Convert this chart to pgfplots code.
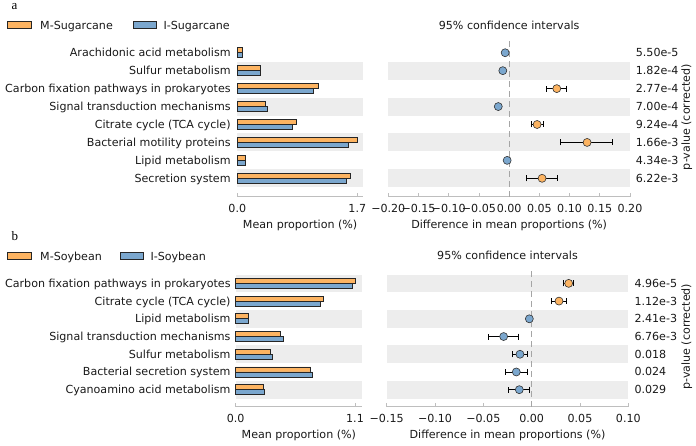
\documentclass[border=0pt]{standalone}
\usepackage{pgfplots}
\pgfplotsset{compat=1.18}
\usepackage{fontspec}
\setmainfont{DejaVu Sans}
\newfontfamily\seriffont{Liberation Serif}
\definecolor{orangeC}{RGB}{253,180,98}
\definecolor{blueC}{RGB}{123,167,206}
\definecolor{bandC}{RGB}{237,237,237}
\definecolor{spineC}{RGB}{190,190,190}
\definecolor{dashC}{RGB}{165,165,165}
\definecolor{textC}{RGB}{25,25,25}
\pgfplotsset{
  leftpanel/.style={
    scale only axis, clip=false,
    axis x line*=bottom, axis y line*=left,
    x axis line style={spineC, line width=0.8pt, -},
    y axis line style={draw=none},
    tick align=inside, major tick length=4pt,
    xtick style={spineC, line width=0.8pt},
    ytick style={draw=none},
    xticklabel style={anchor=base, inner sep=0pt, yshift=-15.5pt, text=textC},
    xlabel={Mean proportion (\%)},
    every axis x label/.style={at={(axis description cs:0.5,0)}, anchor=base, inner sep=0pt, yshift=-31.5pt, text=textC},
  },
  rightpanel/.style={
    scale only axis, clip=false,
    axis x line*=bottom, axis y line*=right,
    x axis line style={spineC, line width=0.8pt, -},
    y axis line style={draw=none},
    tick align=inside, major tick length=4pt,
    xtick style={spineC, line width=0.8pt},
    ytick style={draw=none},
    yticklabel style={anchor=base west, inner sep=0pt, yshift=-4pt, text=textC},
    xticklabel style={anchor=base, inner sep=0pt, yshift=-15.5pt, text=textC},
    xlabel={Difference in mean proportions (\%)},
    every axis x label/.style={at={(axis description cs:0.5,0)}, anchor=base, inner sep=0pt, yshift=-31.5pt, text=textC},
    title={95\% confidence intervals},
    every axis title/.style={at={(axis description cs:0.5,1)}, anchor=base, inner sep=0pt, yshift=7.7pt, text=textC},
    ylabel={p-value (corrected)},
  },
  mbar/.style={xbar, bar width=5pt, bar shift=2.5pt, fill=orangeC, draw=black!85, line width=0.7pt},
  ibar/.style={xbar, bar width=5pt, bar shift=-2.5pt, fill=blueC, draw=black!85, line width=0.7pt},
  ptO/.style={only marks, mark=*, mark size=4pt, mark options={fill=orangeC, draw=black!80, line width=0.6pt, solid},
    error bars/.cd, x dir=both, x explicit, error bar style={black, line width=0.9pt},
    error mark=-, error mark options={black, line width=0.9pt, mark size=3pt, rotate=90}},
  ptB/.style={only marks, mark=*, mark size=4pt, mark options={fill=blueC, draw=black!80, line width=0.6pt, solid},
    error bars/.cd, x dir=both, x explicit, error bar style={black, line width=0.9pt},
    error mark=-, error mark options={black, line width=0.9pt, mark size=3pt, rotate=90}},
  zline/.style={dashC, line width=1pt, dash pattern=on 6pt off 4pt, mark=none},
}
\begin{document}
\fontsize{11.1pt}{13.3pt}\selectfont
\begin{tikzpicture}
\useasboundingbox (0pt,0pt) rectangle (696pt,445pt);
%================ Panel a : mean proportions ================
\begin{axis}[leftpanel,
  at={(237.3pt,248.3pt)}, anchor=south west, width=125.7pt, height=159.4pt,
  xmin=0, xmax=1.781, ymin=-1.025, ymax=7.86,
  xtick={0,1.7}, xticklabels={0.0,1.7},
  ytick={0,1,2,3,4,5,6,7},
  yticklabels={Secretion system, Lipid metabolism, Bacterial motility proteins, Citrate cycle (TCA cycle), Signal transduction mechanisms, Carbon fixation pathways in prokaryotes, Sulfur metabolism, Arachidonic acid metabolism},
  yticklabel style={anchor=base east, inner sep=0pt, xshift=-6.5pt, yshift=-4pt, text=textC},
]
\fill[bandC] (axis cs:0,-0.5) rectangle (axis cs:1.781,0.5);
\fill[bandC] (axis cs:0,1.5) rectangle (axis cs:1.781,2.5);
\fill[bandC] (axis cs:0,3.5) rectangle (axis cs:1.781,4.5);
\fill[bandC] (axis cs:0,5.5) rectangle (axis cs:1.781,6.5);
\addplot[mbar] coordinates {(1.60,0) (0.114,1) (1.705,2) (0.83,3) (0.40,4) (1.155,5) (0.32,6) (0.071,7)};
\addplot[ibar] coordinates {(1.54,0) (0.114,1) (1.577,2) (0.786,3) (0.426,4) (1.08,5) (0.33,6) (0.076,7)};
\end{axis}
%================ Panel a : differences ================
\begin{axis}[rightpanel,
  at={(388.3pt,248.3pt)}, anchor=south west, width=241.7pt, height=159.4pt,
  xmin=-0.2, xmax=0.2, ymin=-1.025, ymax=7.86,
  xtick={-0.2,-0.15,-0.1,-0.05,0,0.05,0.1,0.15,0.2},
  xticklabels={−0.20,−0.15,−0.10,−0.05,0.00,0.05,0.10,0.15,0.20},
  ytick={0,1,2,3,4,5,6,7},
  yticklabels={6.22e-3,4.34e-3,1.66e-3,9.24e-4,7.00e-4,2.77e-4,1.82e-4,5.50e-5},
  yticklabel style={xshift=5.7pt},
  every axis y label/.style={at={(axis description cs:1,0.5)}, xshift=56.7pt, rotate=90, anchor=center, inner sep=0pt, text=textC},
]
\fill[bandC] (axis cs:-0.2,-0.5) rectangle (axis cs:0.2,0.5);
\fill[bandC] (axis cs:-0.2,1.5) rectangle (axis cs:0.2,2.5);
\fill[bandC] (axis cs:-0.2,3.5) rectangle (axis cs:0.2,4.5);
\fill[bandC] (axis cs:-0.2,5.5) rectangle (axis cs:0.2,6.5);
\addplot[zline] coordinates {(0,-1.025) (0,7.86)};
\addplot[ptB] coordinates {
 (-0.0066,7) +- (0.002,0)
 (-0.0105,6) +- (0.002,0)
 (-0.0180,4) +- (0.002,0)
 (-0.0033,1) +- (0.002,0)
};
\addplot[ptO] coordinates {
 (0.0788,5) += (0.0160,0) -= (0.0165,0)
 (0.0463,3) += (0.0099,0) -= (0.0099,0)
 (0.1290,2) += (0.0420,0) -= (0.0436,0)
 (0.0545,0) += (0.0255,0) -= (0.0253,0)
};
\end{axis}
%================ Panel b : mean proportions ================
\begin{axis}[leftpanel,
  at={(235.7pt,38.3pt)}, anchor=south west, width=126.3pt, height=140pt,
  xmin=0, xmax=1.1645, ymin=-0.96, ymax=6.94,
  xtick={0,1.1}, xticklabels={0.0,1.1},
  ytick={0,1,2,3,4,5,6},
  yticklabels={Cyanoamino acid metabolism, Bacterial secretion system, Sulfur metabolism, Signal transduction mechanisms, Lipid metabolism, Citrate cycle (TCA cycle), Carbon fixation pathways in prokaryotes},
  yticklabel style={anchor=base east, inner sep=0pt, xshift=-5pt, yshift=-4pt, text=textC},
]
\fill[bandC] (axis cs:0,-0.5) rectangle (axis cs:1.1645,0.5);
\fill[bandC] (axis cs:0,1.5) rectangle (axis cs:1.1645,2.5);
\fill[bandC] (axis cs:0,3.5) rectangle (axis cs:1.1645,4.5);
\fill[bandC] (axis cs:0,5.5) rectangle (axis cs:1.1645,6.5);
\addplot[mbar] coordinates {(0.252,0) (0.69,1) (0.32,2) (0.409,3) (0.12,4) (0.805,5) (1.106,6)};
\addplot[ibar] coordinates {(0.264,0) (0.71,1) (0.335,2) (0.44,3) (0.12,4) (0.777,5) (1.072,6)};
\end{axis}
%================ Panel b : differences ================
\begin{axis}[rightpanel,
  at={(386.7pt,38.3pt)}, anchor=south west, width=241.6pt, height=140pt,
  xmin=-0.15, xmax=0.10, ymin=-0.96, ymax=6.94,
  xtick={-0.15,-0.1,-0.05,0,0.05,0.1},
  xticklabels={−0.15,−0.10,−0.05,0.00,0.05,0.10},
  ytick={0,1,2,3,4,5,6},
  yticklabels={0.029,0.024,0.018,6.76e-3,2.41e-3,1.12e-3,4.96e-5},
  yticklabel style={xshift=6pt},
  every axis y label/.style={at={(axis description cs:1,0.5)}, xshift=58.4pt, rotate=90, anchor=center, inner sep=0pt, text=textC},
]
\fill[bandC] (axis cs:-0.15,-0.5) rectangle (axis cs:0.1,0.5);
\fill[bandC] (axis cs:-0.15,1.5) rectangle (axis cs:0.1,2.5);
\fill[bandC] (axis cs:-0.15,3.5) rectangle (axis cs:0.1,4.5);
\fill[bandC] (axis cs:-0.15,5.5) rectangle (axis cs:0.1,6.5);
\addplot[zline] coordinates {(0,-0.96) (0,6.94)};
\addplot[ptB] coordinates {
 (-0.0024,4) +- (0.001,0)
 (-0.0290,3) += (0.0152,0) -= (0.0155,0)
 (-0.0121,2) += (0.0076,0) -= (0.0082,0)
 (-0.0159,1) += (0.0111,0) -= (0.0117,0)
 (-0.0128,0) += (0.0104,0) -= (0.0110,0)
};
\addplot[ptO] coordinates {
 (0.0383,6) += (0.0048,0) -= (0.0055,0)
 (0.0283,5) += (0.0072,0) -= (0.0076,0)
};
\end{axis}
%================ legends and panel letters ================
\draw[fill=orangeC, draw=black!85, line width=0.7pt] (7.3pt,416.2pt) rectangle (31.7pt,423.8pt);
\node[anchor=base west, inner sep=0pt, text=textC] at (40pt,415.7pt) {M-Sugarcane};
\draw[fill=blueC, draw=black!85, line width=0.7pt] (133.3pt,416.2pt) rectangle (156.7pt,423.8pt);
\node[anchor=base west, inner sep=0pt, text=textC] at (163.3pt,415.7pt) {I-Sugarcane};
\draw[fill=orangeC, draw=black!85, line width=0.7pt] (7.3pt,185.2pt) rectangle (31.7pt,192.8pt);
\node[anchor=base west, inner sep=0pt, text=textC] at (40pt,184.3pt) {M-Soybean};
\draw[fill=blueC, draw=black!85, line width=0.7pt] (120.3pt,185.2pt) rectangle (143.7pt,192.8pt);
\node[anchor=base west, inner sep=0pt, text=textC] at (150.3pt,184.3pt) {I-Soybean};
\node[anchor=base west, inner sep=0pt, font=\seriffont\fontsize{13pt}{15pt}\selectfont] at (11.5pt,435pt) {a};
\node[anchor=base west, inner sep=0pt, font=\seriffont\fontsize{13pt}{15pt}\selectfont] at (11.5pt,204.3pt) {b};
\end{tikzpicture}
\end{document}
